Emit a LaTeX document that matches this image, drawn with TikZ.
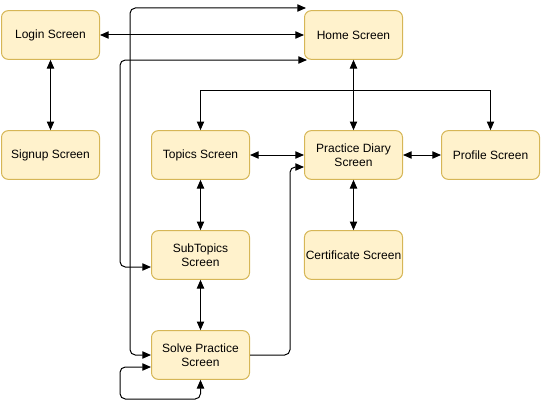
\documentclass[tikz,border=0pt]{standalone}
\usepackage{fontspec}
\setmainfont{Liberation Sans}
\usetikzlibrary{arrows.meta}
\definecolor{screenfill}{HTML}{FFF2CC}
\definecolor{screenline}{HTML}{D6B656}

\begin{document}
\begin{tikzpicture}[x = 0.75pt, y = -0.75pt,
	screen/.style = {draw = screenline, fill = screenfill, line width = 0.75pt, rounded corners = 5pt, minimum width = 73.5pt, minimum height = 36.5pt, align = center, inner sep = 1pt, font = \fontsize{9}{10.5}\selectfont},
	link/.style = {line width = 0.75pt, rounded corners = 4pt, {Triangle[length = 6.5pt, width = 5.5pt]}-{Triangle[length = 6.5pt, width = 5.5pt]}},
	fwd/.style = {line width = 0.75pt, rounded corners = 4pt, -{Triangle[length = 6.5pt, width = 5.5pt]}}]
	 \useasboundingbox (0, 0) rectangle (541, 410);
	 
	 \node[screen] (login) at (50.5, 35) {Login Screen};
	 \node[screen] (home) at (353.5, 35) {Home Screen};
	 \node[screen] (signup) at (50.5, 155) {Signup Screen};
	 \node[screen] (topics) at (200.5, 155) {Topics Screen};
	 \node[screen] (diary) at (353.5, 155) {Practice Diary\\Screen};
	 \node[screen] (profile) at (490.5, 155) {Profile Screen};
	 \node[screen] (subtopics) at (200.5, 255) {SubTopics\\Screen};
	 \node[screen] (certificate) at (353.5, 255) {Certificate Screen};
	 \node[screen] (solve) at (200.5, 355) {Solve Practice\\Screen};
	 
	 \coordinate (split) at (353.5, 90);
	 \coordinate (hometop) at (306, 8);
	 \coordinate (homebot) at (307, 60);
	 \coordinate (subin) at (151, 267);
	 \coordinate (diaryin) at (304, 167);
	 \coordinate (solvein) at (151, 367);
	 
	 \draw[link] (login) -- (home);
	 \draw[link] (login) -- (signup);
	 \draw[link] (home) -- (diary);
	 \draw[fwd, sharp corners] (split) -| (topics.north);
	 \draw[fwd, sharp corners] (split) -| (profile.north);
	 
	 \draw[link] (topics) -- (diary);
	 \draw[link] (diary) -- (profile);
	 \draw[link] (diary) -- (certificate);
	 \draw[link] (topics) -- (subtopics);
	 \draw[link] (subtopics) -- (solve);
	 
	 \draw[link] (solve.west) -| (130, 8) -- (hometop);
	 \draw[link] (subin) -| (120, 60) -- (homebot);
	 \draw[fwd] (solve.east) -| (290, 167) -- (diaryin);
	 \draw[link] (solve.south) |- (120, 399) |- (solvein);
\end{tikzpicture}
\end{document}
